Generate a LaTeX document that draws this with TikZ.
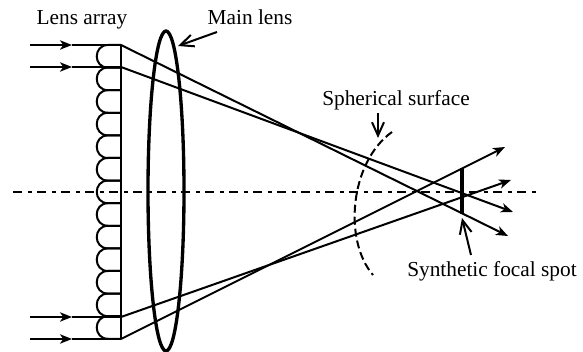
\documentclass[tikz,border=0pt]{standalone}
\usepackage{fontspec}
\setmainfont{Liberation Serif}
\usetikzlibrary{arrows.meta}

\tikzset{
    lbl/.style={font=\fontsize{16}{18}\selectfont, inner sep=0pt, anchor=base},
    ray/.style={line width=1.5pt, -{Stealth[length=9pt, width=7pt, inset=2.5pt]}},
    rayline/.style={line width=1.5pt},
    pointer/.style={line width=1.5pt, -{Straight Barb[length=10pt, width=9pt]}},
}

\begin{document}
\begin{tikzpicture}[x=0.75pt, y=-0.75pt]
    \useasboundingbox (0, 0) rectangle (583, 352);

    % ===== Labels =====
    \node[lbl] (lensarray) at (82, 25) {Lens array};
    \node[lbl] (mainlens) at (250, 25) {Main lens};
    \node[lbl] (sphere) at (396, 106) {Spherical surface};
    \node[lbl] (focalspot) at (492, 277) {Synthetic focal spot};

    % ===== Optical axis =====
    \draw[line width=1.8pt, dash pattern=on 7pt off 4pt on 3pt off 4pt] (13, 192) -- (539, 192);

    % ===== Lens array =====
    \draw[rayline] (121, 45) -- (121, 339);
    \foreach \i [evaluate=\i as \ytop using 45+22.6*\i, evaluate=\i as \ybot using 45+22.6*(\i+1)] in {0,...,12} {
        \draw[rayline] (121, \ytop) -- (108, \ytop)
            .. controls (93, \ytop) and (93, \ybot) .. (108, \ybot) -- (121, \ybot);
    }

    % ===== Main lens =====
    \draw[line width=2.5pt] (166, 191) ellipse [x radius=18, y radius=160];

    % ===== Incoming rays =====
    \foreach \y/\name in {45/a, 67/b, 317/c, 339/d} {
        \coordinate (in\name) at (30, \y);
        \coordinate (mid\name) at (72, \y);
        \coordinate (lens\name) at (121, \y);
        \draw[ray] (in\name) -- (mid\name);
        \draw[rayline] (mid\name) -- (lens\name);
    }

    % ===== Outgoing rays =====
    \coordinate (outa) at (508, 236);
    \coordinate (outb) at (513, 212);
    \coordinate (outc) at (511, 180);
    \coordinate (outd) at (505, 147);
    \draw[ray] (lensa) -- (outa);
    \draw[ray] (lensb) -- (outb);
    \draw[ray] (lensc) -- (outc);
    \draw[ray] (lensd) -- (outd);

    % ===== Spherical surface =====
    \draw[line width=1.5pt, dash pattern=on 6pt off 3pt] (392, 132)
        .. controls (350, 162) and (343, 240) .. (373, 275);

    % ===== Focal spot =====
    \draw[line width=2.6pt] (462, 168) -- (462, 214);

    % ===== Label pointers =====
    \coordinate (mainlens tail) at (217, 32);
    \coordinate (mainlens tip) at (178, 46);
    \coordinate (sphere tail) at (378, 113);
    \coordinate (sphere tip) at (378, 138);
    \coordinate (focalspot tail) at (471, 255);
    \coordinate (focalspot tip) at (462, 218);
    \draw[pointer] (mainlens tail) -- (mainlens tip);
    \draw[pointer] (sphere tail) -- (sphere tip);
    \draw[pointer] (focalspot tail) -- (focalspot tip);

\end{tikzpicture}
\end{document}
